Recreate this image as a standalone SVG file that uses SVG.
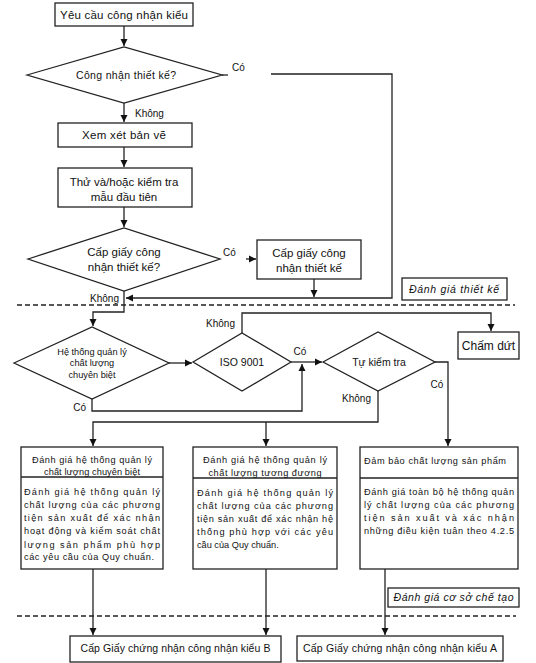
<svg xmlns="http://www.w3.org/2000/svg" width="536" height="663" viewBox="0 0 536 663">
<style>
text{font-family:"Liberation Sans",Arial,sans-serif;fill:#111;}
.box{fill:#fff;stroke:#222;stroke-width:1.3;}
.c{text-anchor:middle;}
.t11{font-size:11.5px;}
.t10{font-size:10.5px;}
.t9{font-size:9.2px;}
.lbl{font-size:10px;}
.it{font-style:italic;font-size:10.5px;}
.ln{fill:none;stroke:#222;stroke-width:1.3;}
.dash{fill:none;stroke:#222;stroke-width:1.3;stroke-dasharray:5,3;}
</style>
<defs>
<marker id="ah" markerWidth="8" markerHeight="8" refX="7" refY="4" orient="auto" markerUnits="userSpaceOnUse">
<path d="M0,0.5 L7,4 L0,7.5 Z" fill="#111"/>
</marker>
</defs>
<rect width="536" height="663" fill="#fff"/>

<g id="connectors">
<path class="ln" d="M124,26 V46" marker-end="url(#ah)"/>
<path class="ln" d="M124,103 V122" marker-end="url(#ah)"/>
<path class="ln" d="M124,147 V167" marker-end="url(#ah)"/>
<path class="ln" d="M124,207 V227" marker-end="url(#ah)"/>
<path class="ln" d="M222,75 H228"/>
<path class="ln" d="M271,74 H392 V298 H126" marker-end="url(#ah)"/>
<path class="ln" d="M246,259 H256" marker-end="url(#ah)"/>
<path class="ln" d="M314,279 V297" marker-end="url(#ah)"/>
<path class="ln" d="M124,291 V312 H93 V326" marker-end="url(#ah)"/>
<path class="ln" d="M169,363 H192" marker-end="url(#ah)"/>
<path class="ln" d="M291,362 H322" marker-end="url(#ah)"/>
<path class="ln" d="M92,399 V411 H302 V364" marker-end="url(#ah)"/>
<path class="ln" d="M242,333 V313 H491 V331" marker-end="url(#ah)"/>
<path class="ln" d="M435,362 H448 V446" marker-end="url(#ah)"/>
<path class="ln" d="M378,391 V422 H93 V446" marker-end="url(#ah)"/>
<path class="ln" d="M266,422 V446" marker-end="url(#ah)"/>
<path class="ln" d="M93,569 V635" marker-end="url(#ah)"/>
<path class="ln" d="M266,569 V635" marker-end="url(#ah)"/>
<path class="ln" d="M385,569 V635" marker-end="url(#ah)"/>
</g>

<g id="labels">
<text class="lbl" x="232" y="71">Có</text>
<text class="lbl" x="135" y="117">Không</text>
<text class="lbl" x="223" y="256">Có</text>
<text class="lbl" x="119" y="302" text-anchor="end">Không</text>
<text class="lbl" x="235" y="327" text-anchor="end">Không</text>
<text class="lbl" x="300" y="355" text-anchor="middle">Có</text>
<text class="lbl" x="86" y="411" text-anchor="end">Có</text>
<text class="lbl" x="437" y="388" text-anchor="middle">Có</text>
<text class="lbl" x="371" y="402" text-anchor="end">Không</text>
</g>

<g id="dividers">
<path class="dash" d="M17,305 H515"/>
<path class="dash" d="M17,616 H516"/>
</g>

<g id="n1"><rect class="box" x="55" y="3" width="138" height="23"/><text class="t11 c" x="124" y="18.5" textLength="128">Yêu cầu công nhận kiểu</text></g>
<g id="d1"><polygon class="box" points="27,75 124,47 222,75 124,103"/><text class="t10 c" x="126" y="79" textLength="100">Công nhận thiết kế?</text></g>
<g id="n2"><rect class="box" x="58" y="123" width="134" height="24"/><text class="t11 c" x="124" y="139" textLength="84">Xem xét bản vẽ</text></g>
<g id="n3"><rect class="box" x="58" y="168" width="134" height="39"/><text class="t11 c" x="124" y="186">Thử và/hoặc kiểm tra</text><text class="t11 c" x="124" y="201">mẫu đầu tiên</text></g>
<g id="d2"><polygon class="box" points="28,259 124,228 220,259 124,291"/><text class="t11 c" x="124" y="256">Cấp giấy công</text><text class="t11 c" x="124" y="271">nhận thiết kế?</text></g>
<g id="n4"><rect class="box" x="257" y="240" width="104" height="39"/><text class="t11 c" x="309" y="257">Cấp giấy công</text><text class="t11 c" x="309" y="272">nhận thiết kế</text></g>
<g id="s1"><rect class="box" x="402" y="278" width="105" height="22"/><text class="it c" x="454" y="293" textLength="90">Đánh giá thiết kế</text></g>

<g id="d3"><polygon class="box" points="14,363 92,327 169,363 92,399"/><text class="t9 c" x="92" y="355">Hệ thống quản lý</text><text class="t9 c" x="92" y="366">chất lượng</text><text class="t9 c" x="92" y="378">chuyên biệt</text></g>
<g id="d4"><polygon class="box" points="193,362 242,333 291,362 242,391"/><text class="t10 c" x="242" y="366">ISO 9001</text></g>
<g id="d5"><polygon class="box" points="323,362 378,332 435,362 378,391"/><text class="t10 c" x="379" y="366">Tự kiểm tra</text></g>
<g id="n5"><rect class="box" x="458" y="332" width="61" height="27"/><text class="c" style="font-size:12px" x="488.5" y="350">Chấm dứt</text></g>

<g id="b1"><rect class="box" x="21" y="447" width="142" height="122"/><path class="ln" d="M21,477 H163"/>
<text class="t9 c" x="92" y="463" textLength="120">Đánh giá hệ thống quản lý</text>
<text class="t9 c" x="92" y="475" textLength="96">chất lượng chuyên biệt</text>
<text class="t9" x="24" y="495" textLength="136" lengthAdjust="spacing">Đánh giá hệ thống quản lý</text>
<text class="t9" x="24" y="508" textLength="136" lengthAdjust="spacing">chất lượng của các phương</text>
<text class="t9" x="24" y="521" textLength="136" lengthAdjust="spacing">tiện sản xuất để xác nhận</text>
<text class="t9" x="24" y="534" textLength="136" lengthAdjust="spacing">hoạt động và kiểm soát chất</text>
<text class="t9" x="24" y="548" textLength="136" lengthAdjust="spacing">lượng sản phẩm phù hợp</text>
<text class="t9" x="24" y="560" textLength="130" lengthAdjust="spacing">các yêu cầu của Quy chuẩn.</text>
</g>
<g id="b2"><rect class="box" x="193" y="447" width="144" height="122"/><path class="ln" d="M193,478 H337"/>
<text class="t9 c" x="265" y="463" textLength="124">Đánh giá hệ thống quản lý</text>
<text class="t9 c" x="265" y="476" textLength="113">chất lượng tương đương</text>
<text class="t9" x="197" y="496" textLength="136" lengthAdjust="spacing">Đánh giá hệ thống quản lý</text>
<text class="t9" x="197" y="509" textLength="136" lengthAdjust="spacing">chất lượng của các phương</text>
<text class="t9" x="197" y="522" textLength="136" lengthAdjust="spacing">tiện sản xuất để xác nhận hệ</text>
<text class="t9" x="197" y="535" textLength="136" lengthAdjust="spacing">thống phù hợp với các yêu</text>
<text class="t9" x="197" y="548">cầu của Quy chuẩn.</text>
</g>
<g id="b3"><rect class="box" x="360" y="447" width="158" height="122"/><path class="ln" d="M360,478 H518"/>
<text class="t9" x="364" y="464" textLength="142">Đảm bảo chất lượng sản phẩm</text>
<text class="t9" x="364" y="495" textLength="150" lengthAdjust="spacing">Đánh giá toàn bộ hệ thống quản</text>
<text class="t9" x="364" y="508" textLength="150" lengthAdjust="spacing">lý chất lượng của các phương</text>
<text class="t9" x="364" y="521" textLength="150" lengthAdjust="spacing">tiện sản xuất và xác nhận</text>
<text class="t9" x="364" y="534" textLength="150" lengthAdjust="spacing">những điều kiện tuân theo 4.2.5</text>
</g>
<g id="s2"><rect class="box" x="388" y="588" width="131" height="19"/><text class="it c" x="453.5" y="601" textLength="120">Đánh giá cơ sở chế tạo</text></g>
<g id="n6"><rect class="box" x="70" y="636" width="211" height="26"/><text class="t10 c" x="175.5" y="652" textLength="190">Cấp Giấy chứng nhận công nhận kiểu B</text></g>
<g id="n7"><rect class="box" x="297" y="636" width="206" height="25"/><text class="t10 c" x="400" y="652" textLength="194">Cấp Giấy chứng nhận công nhận kiểu A</text></g>
</svg>
